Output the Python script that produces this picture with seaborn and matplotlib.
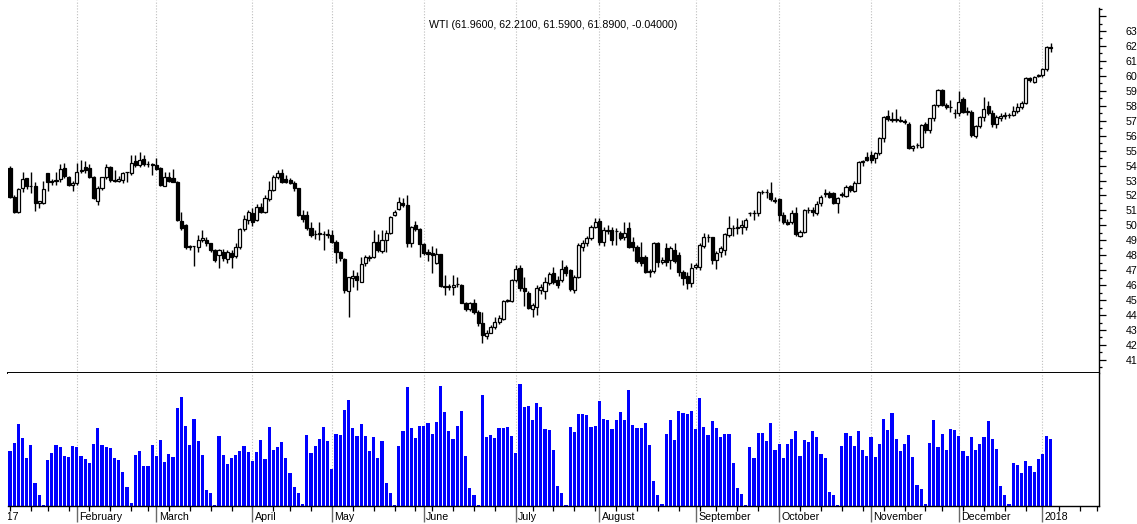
import numpy as np
import pandas as pd
import matplotlib
matplotlib.use("Agg")
import matplotlib.pyplot as plt
import seaborn as sns
from matplotlib.transforms import Bbox, TransformedBbox, ScaledTranslation, blended_transform_factory
from matplotlib.ticker import FuncFormatter

# ---------------- data ----------------
open_ = [
    53.86, 51.87, 50.87, 52.50, 53.15, 52.65, 52.60, 51.50, 51.52, 53.48,
    52.95, 52.95, 53.08, 53.82, 53.26, 52.70, 52.81, 53.65, 53.90, 53.86,
    53.26, 51.65, 52.48, 53.21, 53.93, 53.05, 53.00, 53.03, 53.55, 53.48,
    54.33, 54.04, 54.42, 54.10, 54.10, 54.04, 53.82, 52.63, 53.26, 53.20,
    52.92, 50.30, 50.05, 48.60, 48.60, 48.58, 49.05, 49.02, 48.80, 48.35,
    48.00, 48.25, 47.73, 48.15, 47.95, 48.53, 49.73, 50.36, 50.80, 50.36,
    51.25, 50.92, 51.74, 52.37, 53.21, 53.48, 53.10, 53.03, 52.85, 52.48,
    50.70, 50.70, 49.80, 49.40, 49.45, 49.40, 49.42, 49.35, 48.90, 48.24,
    47.73, 45.60, 46.50, 46.60, 46.23, 47.45, 47.80, 47.90, 48.90, 48.30,
    49.02, 49.47, 50.70, 51.07, 51.52, 51.36, 48.84, 50.00, 49.73, 48.75,
    48.20, 48.15, 47.46, 48.08, 45.94, 45.90, 45.90, 46.07, 46.00, 44.78,
    44.38, 44.78, 44.23, 43.49, 42.60, 42.83, 43.22, 43.55, 43.71, 44.96,
    44.96, 46.34, 47.12, 45.79, 45.45, 44.38, 44.56, 45.67, 45.60, 46.12,
    46.79, 46.34, 46.34, 47.19, 47.00, 45.68, 46.57, 48.57, 48.80, 49.13,
    49.91, 50.31, 48.91, 49.69, 49.69, 49.60, 49.47, 49.20, 49.80, 48.90,
    48.57, 47.90, 47.90, 46.90, 46.97, 48.80, 47.57, 48.46, 47.68, 48.35,
    48.00, 46.90, 46.60, 46.12, 47.20, 47.23, 48.62, 49.20, 49.20, 47.68,
    48.20, 48.35, 49.36, 49.80, 49.85, 49.90, 49.90, 50.80, 50.80, 50.80,
    52.20, 52.25, 52.15, 51.70, 51.74, 50.70, 50.25, 50.25, 50.85, 49.29,
    49.58, 51.03, 51.03, 50.80, 51.47, 52.10, 52.14, 52.14, 51.47, 52.05,
    51.99, 52.63, 52.32, 52.86, 54.26, 54.60, 54.71, 54.48, 54.82, 55.82,
    57.32, 57.10, 57.05, 57.05, 57.00, 56.78, 55.15, 55.37, 55.26, 56.78,
    56.38, 57.16, 58.05, 59.05, 58.05, 57.90, 57.50, 57.49, 58.43, 57.60,
    57.60, 55.98, 56.65, 57.23, 57.95, 57.54, 56.78, 57.20, 57.32, 57.38,
    57.40, 57.67, 57.94, 58.20, 59.88, 59.61, 60.00, 60.06, 60.44, 61.96,
]
high = [
    53.95, 52.00, 52.50, 53.55, 53.20, 53.55, 52.90, 51.65, 52.97, 53.50,
    53.10, 53.60, 54.10, 54.15, 53.30, 53.00, 54.20, 54.37, 54.33, 54.08,
    53.30, 52.60, 53.26, 54.10, 54.00, 53.70, 53.30, 53.60, 53.60, 54.70,
    54.70, 54.93, 54.70, 54.30, 54.20, 54.48, 53.90, 53.60, 53.60, 53.80,
    53.00, 50.90, 50.10, 48.70, 48.65, 49.35, 49.70, 49.25, 48.80, 48.45,
    48.45, 48.45, 48.35, 48.35, 48.80, 49.80, 50.70, 51.00, 51.13, 51.40,
    51.50, 52.00, 53.00, 53.40, 53.70, 53.80, 53.35, 53.20, 52.95, 52.50,
    51.00, 50.95, 50.25, 49.70, 50.25, 49.60, 49.73, 49.70, 49.00, 48.30,
    47.80, 46.55, 47.00, 46.90, 47.90, 48.00, 48.00, 49.70, 49.45, 49.70,
    49.70, 50.60, 51.00, 51.90, 51.80, 52.03, 49.95, 50.30, 49.80, 48.80,
    48.45, 48.60, 48.46, 48.10, 46.67, 46.10, 46.67, 46.56, 46.10, 44.90,
    44.90, 45.10, 44.33, 44.20, 43.00, 43.33, 43.90, 44.00, 45.00, 45.10,
    46.40, 47.35, 47.35, 46.57, 45.60, 44.80, 46.00, 46.10, 46.57, 46.90,
    47.20, 46.60, 47.70, 47.35, 47.06, 46.70, 48.80, 49.00, 49.30, 50.00,
    50.47, 50.47, 49.90, 50.00, 49.90, 49.80, 49.60, 50.24, 50.24, 49.20,
    48.70, 48.90, 48.00, 47.10, 48.90, 48.90, 47.90, 48.80, 48.60, 48.80,
    48.20, 47.00, 46.90, 47.45, 47.50, 48.80, 49.50, 49.40, 49.25, 48.30,
    48.60, 49.50, 50.60, 50.00, 50.50, 50.35, 50.50, 50.90, 51.00, 52.30,
    52.35, 52.45, 52.90, 51.90, 51.80, 50.90, 50.40, 51.00, 51.25, 49.70,
    51.10, 51.20, 51.20, 51.60, 52.00, 52.40, 52.30, 52.20, 51.90, 52.20,
    52.70, 52.70, 53.00, 54.30, 54.40, 54.90, 55.00, 54.90, 55.90, 57.30,
    57.70, 57.60, 57.80, 57.30, 57.10, 56.90, 55.40, 55.50, 56.80, 56.90,
    57.20, 58.10, 59.10, 59.10, 58.20, 58.40, 57.80, 59.00, 58.60, 57.90,
    57.70, 56.70, 57.30, 58.60, 58.30, 57.70, 57.40, 57.50, 57.60, 57.50,
    58.00, 58.20, 58.30, 59.90, 59.95, 60.00, 60.15, 60.50, 62.00, 62.21,
]
low = [
    51.85, 50.80, 50.82, 52.20, 52.40, 52.15, 50.98, 51.15, 51.40, 52.30,
    52.70, 52.70, 52.92, 53.20, 52.60, 52.33, 52.70, 53.50, 53.50, 53.20,
    51.75, 51.36, 52.36, 53.10, 52.90, 52.92, 52.90, 52.85, 52.92, 53.40,
    53.90, 53.90, 54.00, 53.90, 53.40, 53.70, 52.60, 52.60, 52.90, 52.90,
    50.30, 49.70, 48.40, 48.35, 47.25, 48.25, 48.90, 48.65, 48.20, 47.57,
    47.13, 47.60, 47.50, 47.13, 47.80, 48.45, 49.60, 50.10, 49.96, 50.30,
    50.80, 50.80, 51.60, 52.30, 53.10, 52.85, 52.80, 52.75, 52.30, 50.60,
    50.25, 49.70, 49.25, 49.10, 49.00, 48.35, 49.13, 48.80, 47.46, 47.60,
    45.45, 43.90, 45.90, 45.68, 46.20, 47.30, 47.60, 47.80, 48.20, 48.13,
    48.24, 49.40, 50.60, 51.00, 51.25, 48.58, 48.57, 49.60, 47.90, 48.00,
    47.60, 46.83, 47.40, 45.85, 45.34, 45.70, 45.34, 45.90, 44.78, 44.30,
    44.30, 44.10, 43.30, 42.10, 42.40, 42.80, 43.10, 43.40, 43.70, 44.90,
    44.90, 46.20, 45.60, 44.60, 44.40, 43.90, 44.00, 45.40, 45.10, 46.00,
    46.10, 45.80, 46.20, 46.60, 45.60, 45.50, 46.50, 48.30, 48.60, 49.00,
    49.80, 48.70, 48.60, 49.40, 48.70, 48.70, 49.00, 49.00, 48.50, 48.30,
    47.50, 47.30, 46.80, 46.57, 46.80, 47.20, 47.40, 47.30, 47.10, 47.50,
    46.60, 46.00, 45.75, 45.90, 47.10, 47.00, 48.50, 48.90, 47.40, 47.10,
    47.90, 48.00, 49.20, 49.30, 49.40, 49.40, 49.70, 50.60, 50.35, 50.60,
    52.10, 51.80, 51.60, 51.50, 50.30, 50.10, 50.00, 50.10, 49.30, 49.20,
    49.50, 50.80, 50.60, 50.70, 51.30, 51.90, 51.80, 51.40, 50.80, 51.90,
    51.90, 52.20, 52.20, 52.80, 54.00, 54.30, 54.20, 54.20, 54.70, 55.60,
    57.00, 56.90, 56.90, 56.90, 56.80, 55.10, 55.00, 55.20, 55.20, 56.20,
    56.20, 57.00, 57.90, 58.00, 57.80, 57.60, 57.20, 57.30, 57.50, 57.40,
    55.90, 55.85, 56.50, 57.00, 57.40, 56.60, 56.50, 57.00, 57.10, 57.20,
    57.30, 57.50, 57.80, 58.10, 59.60, 59.50, 59.90, 59.90, 60.30, 61.59,
]
close = [
    51.92, 50.92, 52.43, 53.08, 52.63, 52.60, 51.52, 51.60, 52.41, 52.92,
    52.90, 53.05, 53.75, 53.30, 52.70, 52.85, 53.59, 53.70, 53.70, 53.26,
    51.81, 52.48, 53.21, 53.93, 53.03, 53.00, 53.10, 53.52, 53.55, 54.15,
    54.04, 54.37, 54.10, 54.10, 54.05, 53.80, 52.70, 53.26, 52.99, 52.92,
    50.36, 49.80, 48.53, 48.55, 48.60, 49.02, 49.15, 48.80, 48.35, 47.68,
    48.35, 47.80, 48.24, 47.90, 48.53, 49.73, 50.40, 50.92, 50.25, 51.25,
    50.90, 51.81, 52.37, 53.26, 53.48, 52.92, 52.92, 52.85, 52.48, 50.70,
    50.40, 49.80, 49.35, 49.40, 49.47, 49.42, 49.38, 48.90, 48.24, 47.79,
    45.68, 46.52, 46.60, 46.35, 47.41, 47.90, 47.90, 48.90, 48.35, 49.02,
    49.47, 50.58, 50.92, 51.58, 51.36, 48.80, 49.91, 49.73, 48.75, 48.17,
    48.10, 48.05, 48.08, 45.94, 45.85, 45.94, 46.00, 46.10, 44.83, 44.38,
    44.78, 44.23, 43.49, 42.67, 42.83, 43.22, 43.55, 43.78, 44.96, 45.00,
    46.34, 47.06, 45.79, 45.60, 44.45, 44.67, 45.79, 45.90, 46.23, 46.72,
    46.23, 46.00, 47.06, 46.79, 45.72, 46.57, 48.68, 48.80, 49.13, 49.91,
    50.25, 48.91, 49.69, 49.60, 49.02, 49.65, 49.13, 49.50, 48.57, 48.57,
    47.64, 47.46, 46.90, 46.97, 48.80, 47.57, 47.68, 47.57, 48.46, 47.64,
    46.90, 46.45, 46.12, 47.12, 47.35, 48.68, 49.20, 49.20, 47.68, 48.15,
    48.46, 49.40, 49.80, 49.85, 49.90, 50.00, 50.35, 50.80, 50.85, 52.20,
    52.25, 52.20, 51.74, 51.60, 50.70, 50.25, 50.10, 50.85, 49.42, 49.58,
    51.03, 51.05, 50.90, 51.43, 51.92, 52.14, 51.92, 51.52, 51.81, 52.10,
    52.59, 52.37, 52.86, 54.26, 54.30, 54.37, 54.37, 54.82, 55.82, 57.23,
    57.09, 57.05, 57.10, 57.00, 56.94, 55.15, 55.31, 55.40, 56.71, 56.38,
    57.16, 58.05, 59.05, 58.05, 57.94, 57.90, 57.49, 58.27, 57.60, 57.60,
    56.04, 56.65, 57.23, 57.81, 57.54, 56.78, 57.23, 57.32, 57.38, 57.38,
    57.67, 57.94, 58.16, 59.83, 59.72, 59.90, 60.06, 60.44, 61.95, 61.89,
]
volume = [
    166, 190, 246, 203, 143, 182, 68, 32, 2, 138,
    158, 182, 176, 150, 148, 179, 177, 150, 140, 129,
    187, 233, 182, 177, 174, 145, 138, 103, 56, 8,
    153, 164, 119, 119, 182, 150, 198, 132, 156, 148,
    293, 327, 240, 182, 261, 195, 153, 48, 39, 3,
    209, 153, 127, 143, 153, 166, 179, 161, 135, 161,
    198, 140, 237, 169, 177, 192, 145, 98, 58, 38,
    5, 211, 159, 179, 200, 237, 195, 111, 216, 211,
    288, 317, 234, 208, 246, 208, 164, 205, 143, 195,
    68, 39, 2, 179, 224, 357, 234, 203, 240, 240,
    249, 216, 251, 359, 280, 223, 200, 240, 285, 150,
    55, 34, 2, 333, 205, 213, 203, 234, 232, 237,
    208, 159, 364, 296, 298, 258, 308, 296, 229, 227,
    169, 60, 38, 3, 236, 220, 275, 275, 272, 237,
    240, 314, 261, 258, 230, 256, 280, 258, 348, 243,
    232, 234, 248, 184, 75, 34, 5, 216, 258, 198,
    285, 277, 275, 285, 230, 322, 237, 211, 254, 234,
    206, 214, 214, 129, 54, 37, 2, 177, 145, 217,
    219, 195, 248, 169, 185, 143, 185, 200, 224, 150,
    198, 193, 224, 206, 156, 143, 41, 34, 2, 179,
    219, 209, 179, 224, 169, 150, 206, 148, 187, 261,
    228, 277, 200, 164, 187, 211, 148, 63, 50, 5,
    190, 258, 177, 214, 167, 230, 227, 208, 164, 150,
    206, 167, 185, 206, 253, 200, 172, 60, 34, 5,
    128, 123, 98, 135, 121, 103, 140, 155, 208, 200,
]

title_text = "WTI (61.9600, 62.2100, 61.5900, 61.8900, -0.04000)"
month_names = ["January", "February", "March", "April", "May", "June", "July",
               "August", "September", "October", "November", "December"]
holidays = ["2017-01-16", "2017-02-20", "2017-04-14", "2017-05-29", "2017-07-04",
            "2017-09-04", "2017-11-23", "2017-12-25", "2018-01-01", "2018-01-15"]
calendar_start = "2017-01-03"
first_bar_date = "2017-01-09"
calendar_end = "2018-01-26"

# ---------------- trading calendar -> axis positions ----------------
days = pd.bdate_range(calendar_start, calendar_end)
days = days[~days.isin(pd.to_datetime(holidays))]
offset = int(np.searchsorted(days, pd.Timestamp(first_bar_date)))
cal_pos = np.arange(len(days)) - offset
months = days.month.values
weeks = days.isocalendar().week.values
month_start = np.r_[True, months[1:] != months[:-1]]
week_start = np.r_[True, weeks[1:] != weeks[:-1]]
month_pos = cal_pos[month_start]
month_lbl = [str(d.year) if d.month == 1 else month_names[d.month - 1] for d in days[month_start]]
week_pos = cal_pos[week_start]

n = len(close)
pos = np.arange(n)
o = np.array(open_); h = np.array(high); l = np.array(low); c = np.array(close)

# ---------------- figure ----------------
sns.set_theme(style="white")
plt.rcParams["font.family"] = ["Liberation Sans", "DejaVu Sans"]

W, H = 1137, 524
fig = plt.figure(figsize=(W / 100, H / 100), dpi=100)
x_left, x_right = 8, 1099
axp = fig.add_axes([x_left / W, (H - 373) / H, (x_right - x_left) / W, 373 / H])
axv = fig.add_axes([x_left / W, (H - 506) / H, (x_right - x_left) / W, 133 / H])

px_per_bar = 4.18
xlim = ((x_left - 10) / px_per_bar, (x_right - 10) / px_per_bar)
px_per_unit = 14.95
ylim_p = (63 - (373 - 31) / px_per_unit, 63 + 31 / px_per_unit)

grid_kw = dict(color="#bdbdbd", linestyle=(0, (1, 1.6)), linewidth=0.8, zorder=0)
vis_months = [p for p in month_pos if xlim[0] <= p <= xlim[1]]
for p in vis_months:
    axp.axvline(p, **grid_kw)
    axv.axvline(p, **grid_kw)

# candlesticks
up = c >= o
axp.vlines(pos, l, h, color="black", linewidth=1.0, zorder=2)
body_bottom = np.minimum(o, c)
body_height = np.maximum(np.abs(c - o), 0.03)
axp.bar(pos, body_height, bottom=body_bottom, width=0.74,
        color=np.where(up, "white", "black"), edgecolor="black",
        linewidth=0.9, zorder=3)

axp.set_xlim(*xlim)
axp.set_ylim(*ylim_p)
axp.tick_params(axis="x", bottom=False, labelbottom=False)
axp.yaxis.tick_right()
axp.set_yticks(np.arange(41, 65))
axp.set_yticks(np.arange(40.5, 65, 1.0), minor=True)
axp.yaxis.set_major_formatter(FuncFormatter(lambda v, _: "" if v > 63.5 else f"{v:.0f}"))
axp.tick_params(axis="y", which="major", right=True, left=False, length=5, width=0.9,
                pad=14, labelsize=7.7, colors="black", direction="out")
axp.tick_params(axis="y", which="minor", right=True, left=False, length=2.5, width=0.9,
                colors="black", direction="out")
for s in ["left", "top"]:
    axp.spines[s].set_visible(False)
axp.spines["right"].set_color("black")
axp.spines["right"].set_linewidth(1.0)
axp.spines["right"].set_bounds(ylim_p[0], 64.55)
axp.spines["bottom"].set_color("black")
axp.spines["bottom"].set_linewidth(1.4)
axp.grid(False)

# volume
vol_df = pd.DataFrame({"pos": pos, "volume": volume})
sns.barplot(data=vol_df, x="pos", y="volume", native_scale=True, color="#0000ff",
            saturation=1, width=0.76, errorbar=None, linewidth=0, ax=axv, zorder=2)
axv.set_xlim(*xlim)
axv.set_ylim(0, 398)
axv.set_xlabel("")
axv.set_ylabel("")
axv.set_yticks([])
axv.set_xticks(vis_months)
axv.set_xticks([p for p in week_pos if xlim[0] <= p <= xlim[1]], minor=True)
axv.tick_params(axis="x", which="major", bottom=True, length=11.5, width=1.0,
                color="#6a6a6a", labelbottom=False, direction="out")
axv.tick_params(axis="x", which="minor", bottom=True, length=3.6, width=0.9,
                color="black", direction="out")
for s in ["left", "top"]:
    axv.spines[s].set_visible(False)
for s in ["right", "bottom"]:
    axv.spines[s].set_color("black")
    axv.spines[s].set_linewidth(1.0)
axv.grid(False)

# month labels (left-aligned next to the month tick, clipped at the plot's left edge
# exactly as in the reference, where the first year label shows only "17")
lbl_trans = blended_transform_factory(axv.transData, fig.transFigure) + \
    ScaledTranslation(2.5 / 100, 0, fig.dpi_scale_trans)
clip = TransformedBbox(Bbox.from_extents(7.5 / W, 0, 1, 1), fig.transFigure)
for p, s in zip(month_pos, month_lbl):
    if p > xlim[1]:
        continue
    t = fig.text(p, (H - 517) / H, s, transform=lbl_trans, ha="left", va="center",
                 fontsize=7.7, color="black")
    t.set_clip_box(clip)
    t.set_clip_on(True)

fig.text(553 / W, 1 - 25 / H, title_text, ha="center", va="center", fontsize=7.7, color="black")

fig.savefig("out.png", dpi=100)
